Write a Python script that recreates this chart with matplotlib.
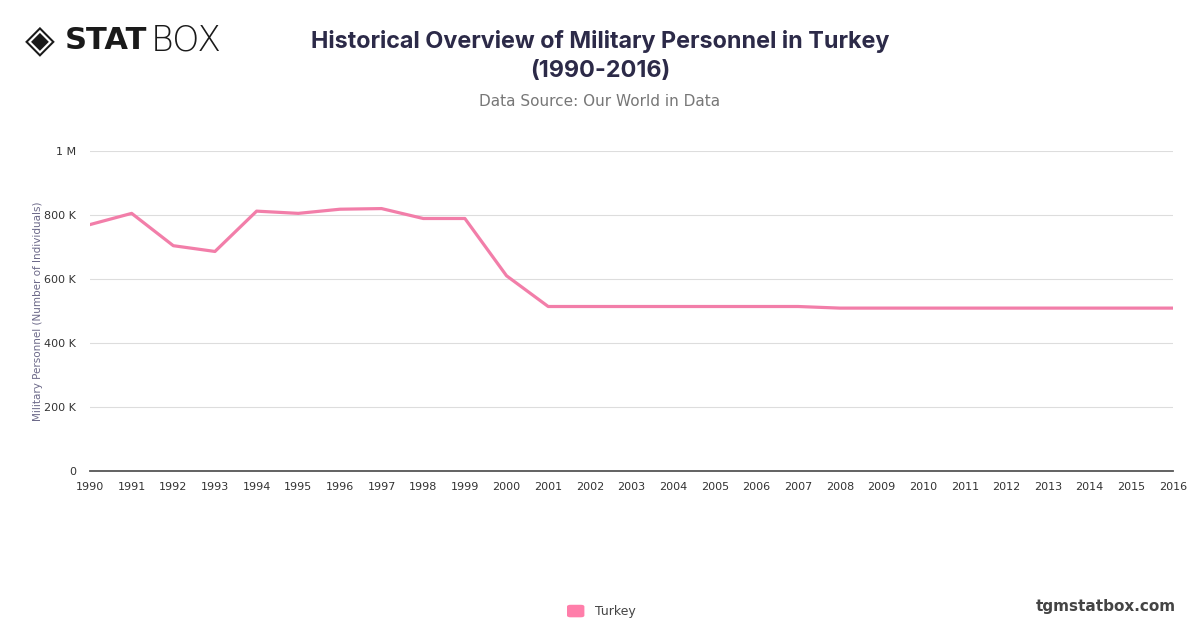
import matplotlib.pyplot as plt
from matplotlib.patches import FancyBboxPatch

# data
years = list(range(1990, 2017))
personnel = [770000, 805000, 704000, 686000, 812000, 805000, 818000, 820000,
             789000, 789000, 610000, 514000, 514000, 514000, 514000, 514000,
             514000, 514000, 509000, 509000, 509000, 509000, 509000, 509000,
             509000, 509000, 509000]
y_ticks = [0, 200000, 400000, 600000, 800000, 1000000]
y_tick_labels = ["0", "200 K", "400 K", "600 K", "800 K", "1 M"]

line_color = "#f27ea9"

fig = plt.figure(figsize=(12, 6.28), dpi=100)
ax = fig.add_axes([0.075, 0.25, 0.9025, 0.5096])

ax.plot(years, personnel, color=line_color, linewidth=2.3, solid_joinstyle="round")

ax.set_xlim(1990, 2016)
ax.set_ylim(0, 1000000)
ax.set_xticks(years)
ax.set_xticklabels([str(y) for y in years], fontsize=8, color="#333333")
ax.set_yticks(y_ticks)
ax.set_yticklabels(y_tick_labels, fontsize=8, color="#333333")
ax.tick_params(axis="both", length=0)
ax.tick_params(axis="x", pad=8)
ax.tick_params(axis="y", pad=10)

# grid and spines
ax.grid(axis="y", color="#dddddd", linewidth=0.8)
ax.set_axisbelow(True)
for side in ["top", "right", "left"]:
    ax.spines[side].set_visible(False)
ax.spines["bottom"].set_color("#555555")
ax.spines["bottom"].set_linewidth(1.3)

ax.set_ylabel("Military Personnel (Number of Individuals)", fontsize=7.5,
              color="#6b6888", labelpad=12)
ax.yaxis.set_label_coords(-0.043, 0.5)

# title block
fig.text(0.5, 0.911, "Historical Overview of Military Personnel in Turkey\n(1990-2016)",
         ha="center", va="center", fontsize=16.8, fontweight="bold", family="Inter",
         color="#2c2a48", linespacing=1.4)
fig.text(0.5, 0.838, "Data Source: Our World in Data", ha="center", va="center",
         fontsize=11, color="#777777")

# logo
fig.text(0.021, 0.936, "\u25C8", ha="left", va="center", fontsize=28, color="#1a1a1a")
fig.text(0.054, 0.936, "STAT", ha="left", va="center", fontsize=22,
         fontweight="heavy", color="#1a1a1a")
fig.text(0.126, 0.936, "BOX", ha="left", va="center", fontsize=25,
         fontweight="light", color="#1a1a1a")

# legend
swatch = FancyBboxPatch((0.4725, 0.017), 0.0145, 0.02, transform=fig.transFigure,
                        boxstyle="round,pad=0,rounding_size=0.003",
                        facecolor="#ff7eaa", edgecolor="none")
fig.patches.append(swatch)
fig.text(0.496, 0.027, "Turkey", ha="left", va="center", fontsize=9, color="#444444")

fig.text(0.98, 0.035, "tgmstatbox.com", ha="right", va="center", fontsize=11,
         fontweight="bold", color="#444444")

fig.savefig("out.png", dpi=100, facecolor="white")
